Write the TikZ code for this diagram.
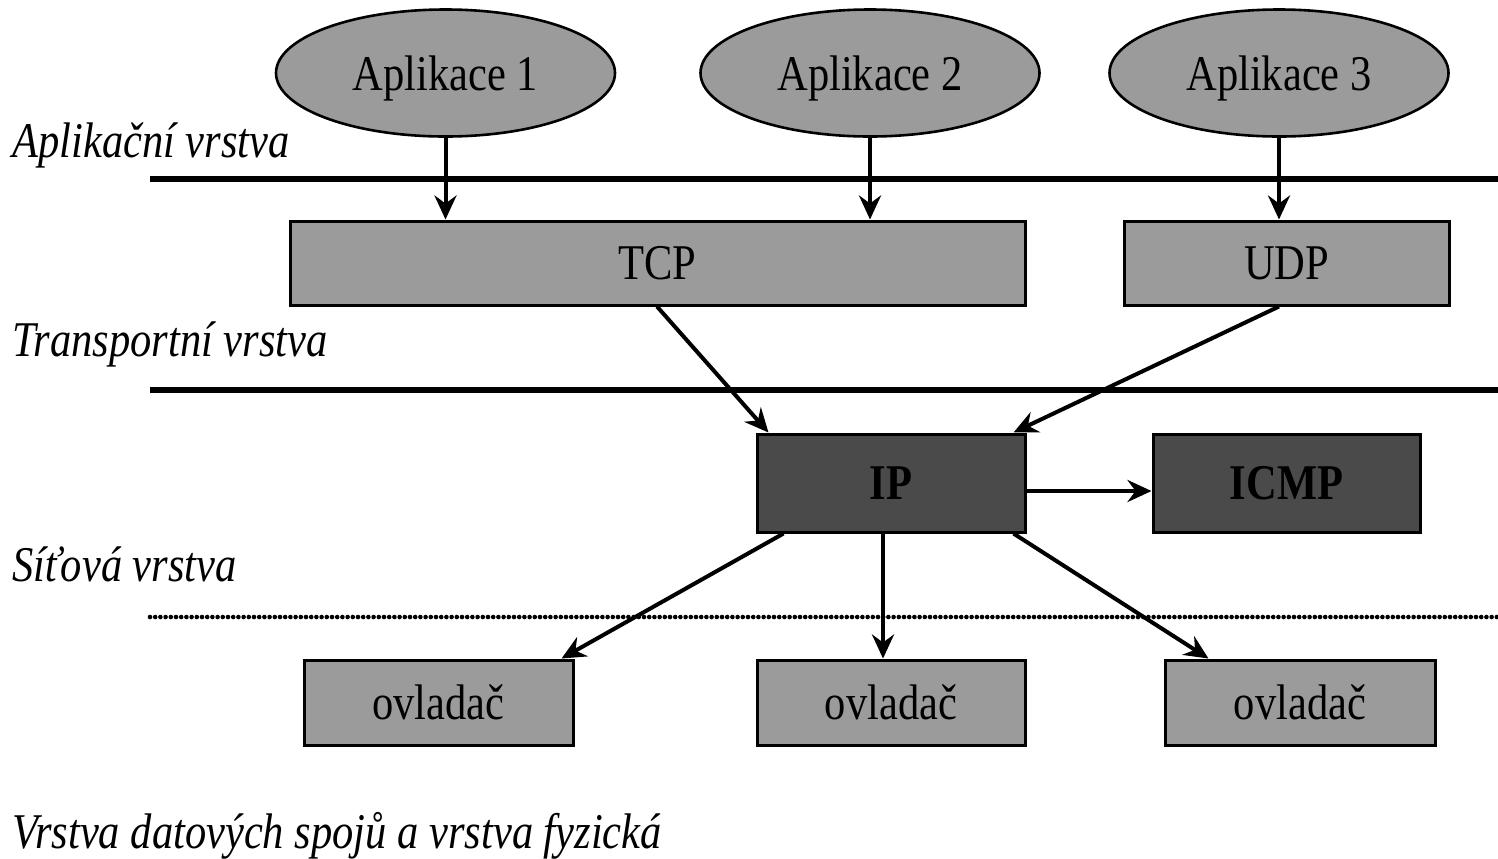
\documentclass[tikz,border=0pt]{standalone}
\usepackage{fontspec}
\setmainfont{Liberation Serif}[FakeStretch=0.85]
\usetikzlibrary{arrows.meta,shapes.geometric}
\definecolor{lightg}{HTML}{9B9B9B}
\definecolor{darkg}{HTML}{4A4A4A}
\tikzset{
  app/.style={ellipse, draw=black, line width=1.3pt, fill=lightg, minimum width=169.5pt, minimum height=63.5pt, inner sep=0pt, text depth=0pt, font=\fontsize{25}{30}\selectfont},
  lbox/.style={rectangle, draw=black, line width=1.5pt, fill=lightg, inner sep=0pt, font=\fontsize{25}{30}\selectfont},
  dbox/.style={rectangle, draw=black, line width=1.5pt, fill=darkg, inner sep=0pt, font=\fontsize{25}{30}\selectfont\bfseries},
  layerlabel/.style={anchor=base west, inner sep=0pt, font=\fontsize{25}{30}\selectfont\itshape},
  layerline/.style={line width=2.8pt},
  dotline/.style={line width=2.3pt, line cap=round, dash pattern=on 0pt off 2.6pt},
  conn/.style={line width=2pt, -{Stealth[length=12pt, width=11pt, inset=4pt]}}
}
\begin{document}
\begin{tikzpicture}[x=0.5pt, y=-0.5pt]
\useasboundingbox (0,0) rectangle (1498,858);
% layer lines
\draw[layerline] (150,179) -- (1498,179);
\draw[layerline] (150,390) -- (1498,390);
\draw[dotline] (150,617) -- (1498,617);
% labels
\node[layerlabel] (l1) at (12,157) {Aplikační vrstva};
\node[layerlabel] (l2) at (12,356) {Transportní vrstva};
\node[layerlabel] (l3) at (12,581) {Síťová vrstva};
\node[layerlabel] (l4) at (12,848) {Vrstva datových spojů a vrstva fyzická};
% applications
\node[app] (a1) at (445.5,73) {Aplikace 1};
\node[app] (a2) at (870,73) {Aplikace 2};
\node[app] (a3) at (1279,73) {Aplikace 3};
% transport
\node[lbox, minimum width=367.5pt, minimum height=42pt] (tcp) at (657.5,263) {TCP};
\node[lbox, minimum width=162.5pt, minimum height=42pt] (udp) at (1286.5,263) {UDP};
% network
\node[dbox, minimum width=134pt, minimum height=49pt] (ip) at (891,483) {IP};
\node[dbox, minimum width=133.5pt, minimum height=49pt] (icmp) at (1286.5,483) {ICMP};
% drivers
\node[lbox, minimum width=134.5pt, minimum height=42.5pt] (d1) at (438.5,702.5) {ovladač};
\node[lbox, minimum width=134pt, minimum height=42.5pt] (d2) at (891,702.5) {ovladač};
\node[lbox, minimum width=135pt, minimum height=42.5pt] (d3) at (1300,702.5) {ovladač};
% connectors
\draw[conn] (a1.south) -- (a1.south |- tcp.north);
\draw[conn] (a2.south) -- (a2.south |- tcp.north);
\draw[conn] (a3.south) -- (a3.south |- udp.north);
\draw[conn] ([xshift=-0.25pt]tcp.south) -- ([xshift=6.5pt]ip.north west);
\draw[conn] ([xshift=-3.75pt]udp.south) -- ([xshift=-6.5pt]ip.north east);
\draw[conn] (ip.east |- icmp.west) ++(0,8) coordinate (ipe) (ipe) -- (ipe -| icmp.west);
\draw[conn] ([xshift=14pt]ip.south west) -- ([xshift=-6.5pt]d1.north east);
\draw[conn] ([xshift=-4pt]ip.south) -- ([xshift=-4pt]d2.north);
\draw[conn] ([xshift=-6.5pt]ip.south east) -- ([xshift=22.5pt]d3.north west);
\end{tikzpicture}
\end{document}
